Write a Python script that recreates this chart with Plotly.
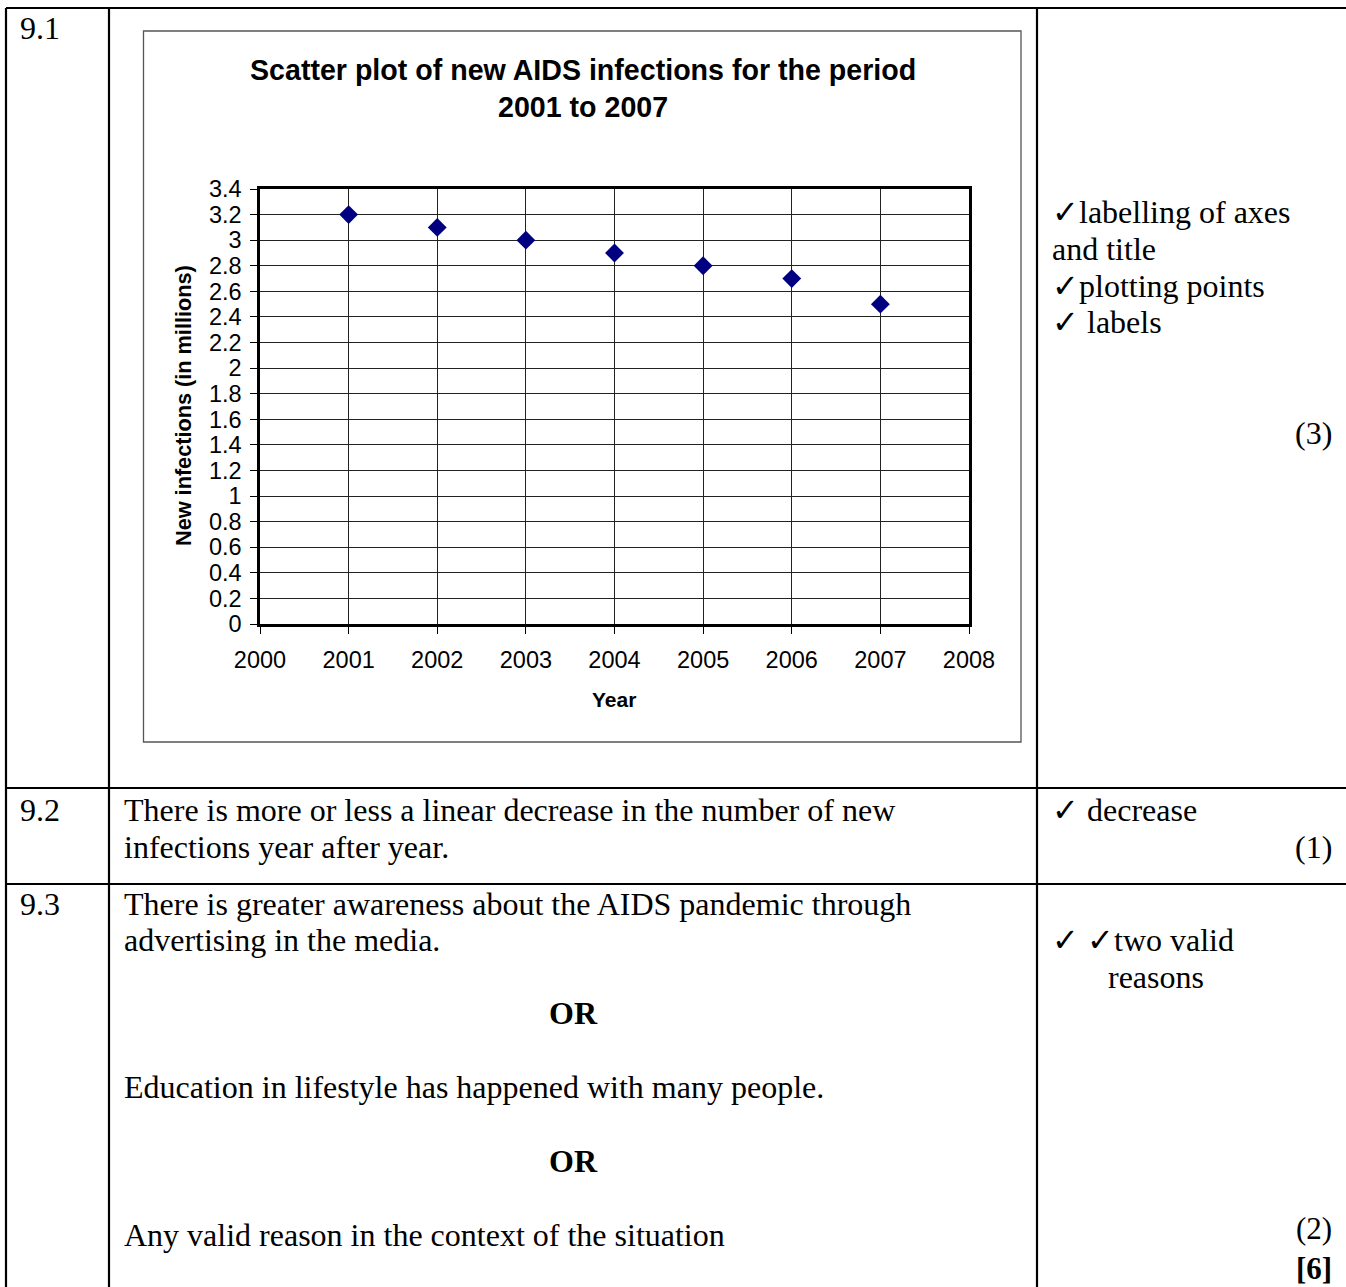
import plotly.graph_objects as go

# ---- data ----
years = [2001, 2002, 2003, 2004, 2005, 2006, 2007]
new_infections = [3.2, 3.1, 3.0, 2.9, 2.8, 2.7, 2.5]

chart_title_lines = ["Scatter plot of new AIDS infections for the period", "2001 to 2007"]
x_title = "Year"
y_title = "New infections (in millions)"

W, H = 1346, 1287


def px(x):
    return x / W


def py(y):
    return 1 - y / H


SERIF = "Liberation Serif, Times New Roman, serif"
SANS = "Liberation Sans, Arial, sans-serif"
TS = 32  # table text size

fig = go.Figure()
fig.add_trace(go.Scatter(
    x=years, y=new_infections, mode="markers",
    marker=dict(symbol="diamond", size=14.5, color="#000080",
                line=dict(width=0)),
    showlegend=False, hoverinfo="x+y",
))

shapes = []
# table lines
tl = dict(color="black", width=2.2)
shapes.append(dict(type="line", xref="paper", yref="paper", x0=px(6), x1=px(1346), y0=py(8), y1=py(8), line=tl))
shapes.append(dict(type="line", xref="paper", yref="paper", x0=px(6), x1=px(6), y0=py(8), y1=py(1287), line=tl))
shapes.append(dict(type="line", xref="paper", yref="paper", x0=px(109), x1=px(109), y0=py(8), y1=py(1287), line=tl))
shapes.append(dict(type="line", xref="paper", yref="paper", x0=px(1037), x1=px(1037), y0=py(8), y1=py(1287), line=tl))
shapes.append(dict(type="line", xref="paper", yref="paper", x0=px(6), x1=px(1346), y0=py(788), y1=py(788), line=tl))
shapes.append(dict(type="line", xref="paper", yref="paper", x0=px(6), x1=px(1346), y0=py(884), y1=py(884), line=tl))
# chart frame
shapes.append(dict(type="rect", xref="paper", yref="paper", x0=px(143.5), x1=px(1021), y0=py(31), y1=py(742),
                   line=dict(color="#555555", width=1.3), layer="below"))

ann = []


def txt(s, x, y, size=TS, anchor="left", font=SERIF, bold=False, angle=0, vanchor="middle"):
    if bold:
        s = "<b>" + s + "</b>"
    ann.append(dict(text=s, x=px(x), y=py(y), xref="paper", yref="paper",
                    xanchor=anchor, yanchor=vanchor, showarrow=False,
                    textangle=angle, borderpad=0, align=anchor if anchor != "center" else "center",
                    font=dict(family=font, size=size, color="black")))


# chart title / axis titles
txt(chart_title_lines[0], 582.5, 70, size=28.6, anchor="center", font=SANS, bold=True)
txt(chart_title_lines[1], 582.5, 107, size=28.6, anchor="center", font=SANS, bold=True)
txt(x_title, 614, 699, size=21, anchor="center", font=SANS, bold=True)
txt(y_title, 183, 405, size=21.7, anchor="center", font=SANS, bold=True, angle=-90)

# table text
txt("9.1", 19, 28)
txt("9.2", 19, 810)
txt("9.3", 19, 904)
txt("There is more or less a linear decrease in the number of new", 123, 810)
txt("infections year after year.", 123, 847)
txt("There is greater awareness about the AIDS pandemic through", 123, 904)
txt("advertising in the media.", 123, 940)
txt("OR", 573, 1013, anchor="center", bold=True)
txt("Education in lifestyle has happened with many people.", 123, 1087)
txt("OR", 573, 1161, anchor="center", bold=True)
txt("Any valid reason in the context of the situation", 123, 1235)

txt("\u2713labelling of axes", 1051, 212)
txt("and title", 1051, 249)
txt("\u2713plotting points", 1051, 286)
txt("\u2713 labels", 1051, 322)
txt("(3)", 1333, 433, anchor="right")
txt("\u2713 decrease", 1051, 810)
txt("(1)", 1333, 847, anchor="right")
txt("\u2713 \u2713two valid", 1051, 940)
txt("reasons", 1107, 977)
txt("(2)<br><b>[6]</b>", 1333, 1287, size=31, anchor="right", vanchor="bottom")

axis_common = dict(
    showline=True, linecolor="black", linewidth=2.5, mirror=True,
    showgrid=True, gridcolor="#222222", gridwidth=1,
    ticks="outside", ticklen=7, tickcolor="black", tickwidth=1,
    zeroline=False, automargin=False,
    tickfont=dict(family=SANS, size=23.5, color="black"),
)

fig.update_layout(
    width=W, height=H, autosize=False,
    margin=dict(l=0, r=0, t=0, b=0, pad=0),
    paper_bgcolor="white", plot_bgcolor="white",
    xaxis=dict(domain=[px(260), px(969)], range=[2000, 2008], dtick=1, tick0=2000,
               ticklabelstandoff=6, **axis_common),
    yaxis=dict(domain=[py(624), py(189)], range=[0, 3.4], dtick=0.2, tick0=0,
               ticklabelstandoff=4, **axis_common),
    shapes=shapes,
    annotations=ann,
)

fig.write_html("out.html")
